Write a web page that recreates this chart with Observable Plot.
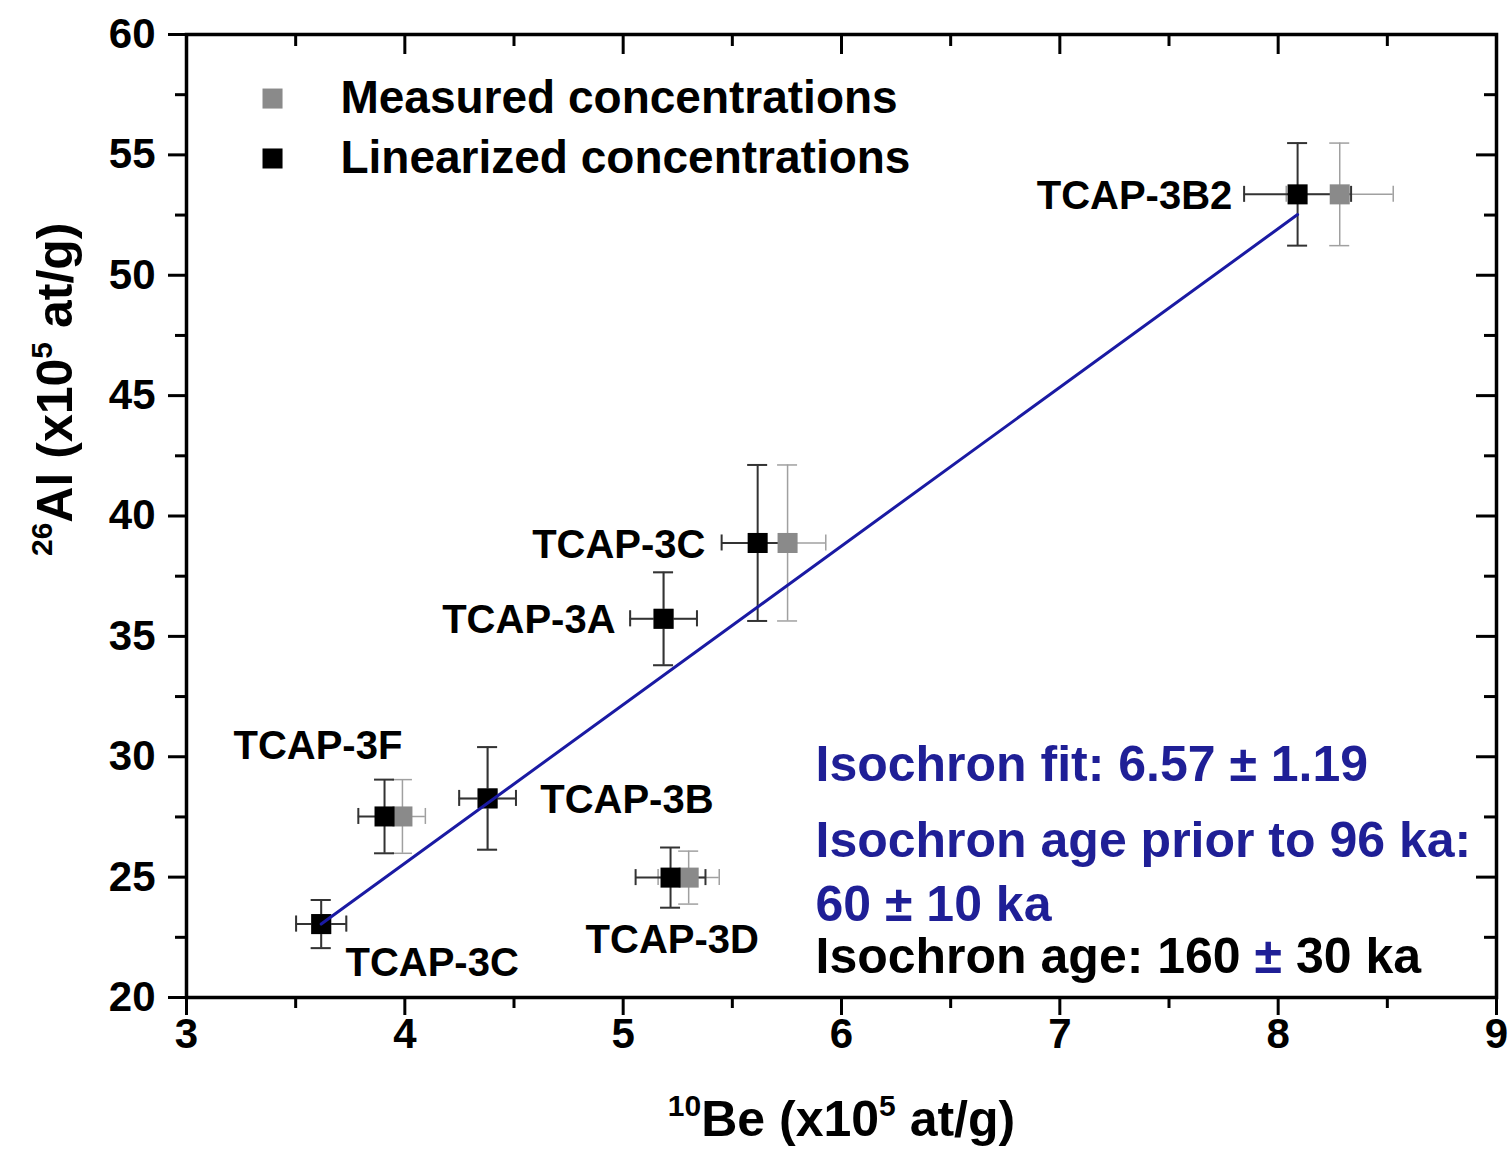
<!DOCTYPE html>
<html>
<head>
<meta charset="utf-8">
<script src="https://cdn.jsdelivr.net/npm/d3@7"></script>
<script src="https://cdn.jsdelivr.net/npm/@observablehq/plot@0.6"></script>
<style>
  html, body { margin: 0; padding: 0; background: #fff; }
  svg { display: block; }
</style>
</head>
<body>
<div id="chart"></div>
<script>
// ---------------- data ----------------
const samples   = ["TCAP-3B2", "TCAP-3C", "TCAP-3A", "TCAP-3F", "TCAP-3B", "TCAP-3C", "TCAP-3D"];
// Linearized concentrations (black)
const beLin     = [8.089, 5.616, 5.185, 3.907, 4.379, 3.617, 5.217];
const alLin     = [53.36, 38.88, 35.73, 27.52, 28.27, 23.05, 24.98];
const beLinErr  = [0.245, 0.165, 0.153, 0.12, 0.13, 0.115, 0.16];
const alLinErr  = [2.13, 3.24, 1.93, 1.53, 2.13, 1.0, 1.25];
// Measured concentrations (grey)
const beMeas    = [8.282, 5.753, 5.185, 3.989, 4.379, 3.617, 5.30];
const alMeas    = [53.36, 38.88, 35.73, 27.52, 28.27, 23.05, 24.98];
const beMeasErr = [0.245, 0.175, 0.153, 0.105, 0.13, 0.115, 0.14];
const alMeasErr = [2.13, 3.24, 1.93, 1.53, 2.13, 1.0, 1.1];
// Isochron fit line end points
const fitX = [3.617, 8.089];
const fitY = [23.05, 52.52];
// axis ticks
const xMajor = [3, 4, 5, 6, 7, 8, 9];
const xMinor = [3.5, 4.5, 5.5, 6.5, 7.5, 8.5];
const yMajor = [20, 25, 30, 35, 40, 45, 50, 55, 60];
const yMinor = [22.5, 27.5, 32.5, 37.5, 42.5, 47.5, 52.5, 57.5];
// texts
const legendLabels = ["Measured concentrations", "Linearized concentrations"];
const isoLinesBlue = ["Isochron fit: 6.57 \u00B1 1.19", "Isochron age prior to 96 ka:", "60 \u00B1 10 ka"];
const isoLineBlack = "Isochron age: 160 \u00B1 30 ka";
const xTitle = "\u00B9\u2070Be (x10\u2075 at/g)";
const yTitle = "\u00B2\u2076Al (x10\u2075 at/g)";

// ---------------- layout (annotation anchors in data units) ----------------
const labelX      = [7.79, 5.377, 4.965, 3.215, 4.62, 3.728, 4.828];
const labelY      = [53.27, 38.77, 35.66, 30.44, 28.18, 21.41, 22.37];
const labelAnchor = ["end", "end", "end", "start", "start", "start", "start"];
const legendMarkX = 3.394, legendTextX = 3.705, legendY = [57.34, 54.85];
const isoX = 5.881, isoY = [29.64, 26.52, 23.86], isoBlackY = 21.70;

const W = 1509, H = 1171, mL = 186, mR = 13, mT = 34, mB = 174;
const innerW = W - mL - mR, innerH = H - mT - mB;
const BLUE = "#1f1f96", LINE = "#1a1aa3", GREY = "#8a8a8a", GREYBAR = "#a0a0a0";

const lin = samples.map((s, i) => ({s, x: beLin[i], y: alLin[i], ex: beLinErr[i], ey: alLinErr[i]}));
const meas = samples.map((s, i) => ({s, x: beMeas[i], y: alMeas[i], ex: beMeasErr[i], ey: alMeasErr[i]}));
const fit = fitX.map((x, i) => ({x, y: fitY[i]}));
const labels = samples.map((s, i) => ({s, x: labelX[i], y: labelY[i], a: labelAnchor[i]}));
const legend = legendLabels.map((t, i) => ({t, y: legendY[i], c: i === 0 ? GREY : "#000"}));
const iso = isoLinesBlue.map((t, i) => ({t, y: isoY[i]}));

function errorMarks(data, color, sw) {
  return [
    Plot.ruleX(data, {x: "x", y1: d => d.y - d.ey, y2: d => d.y + d.ey, stroke: color, strokeWidth: sw}),
    Plot.ruleY(data, {y: d => d.y + d.ey, x1: "x", x2: "x", insetLeft: -10, insetRight: -10, stroke: color, strokeWidth: sw}),
    Plot.ruleY(data, {y: d => d.y - d.ey, x1: "x", x2: "x", insetLeft: -10, insetRight: -10, stroke: color, strokeWidth: sw}),
    Plot.ruleY(data, {y: "y", x1: d => d.x - d.ex, x2: d => d.x + d.ex, stroke: color, strokeWidth: sw}),
    Plot.ruleX(data, {x: d => d.x - d.ex, y1: "y", y2: "y", insetTop: -8, insetBottom: -8, stroke: color, strokeWidth: sw}),
    Plot.ruleX(data, {x: d => d.x + d.ex, y1: "y", y2: "y", insetTop: -8, insetBottom: -8, stroke: color, strokeWidth: sw})
  ];
}

const plot = Plot.plot({
  width: W, height: H,
  marginLeft: mL, marginRight: mR, marginTop: mT, marginBottom: mB,
  style: {fontFamily: "'Liberation Sans', Arial, sans-serif", fontWeight: "bold", background: "#fff", color: "#000"},
  x: {domain: [3, 9]},
  y: {domain: [20, 60]},
  marks: [
    // axes: outward on left/bottom, inward mirror ticks on top/right
    Plot.axisY(yMajor, {anchor: "left", tickSize: 18, tickPadding: 13, fontSize: 42, strokeWidth: 3, tickFormat: d => String(d), label: null}),
    Plot.axisY(yMinor, {anchor: "left", tickSize: 11, tickFormat: () => "", strokeWidth: 3, label: null}),
    Plot.axisX(xMajor, {anchor: "bottom", tickSize: 18, tickPadding: 3, fontSize: 42, strokeWidth: 3, tickFormat: d => String(d), label: null}),
    Plot.axisX(xMinor, {anchor: "bottom", tickSize: 11, tickFormat: () => "", strokeWidth: 3, label: null}),
    Plot.tickX(xMajor, {x: d => d, insetBottom: innerH - 20, strokeWidth: 3}),
    Plot.tickX(xMinor, {x: d => d, insetBottom: innerH - 12, strokeWidth: 3}),
    Plot.tickY(yMajor, {y: d => d, insetLeft: innerW - 20, strokeWidth: 3}),
    Plot.tickY(yMinor, {y: d => d, insetLeft: innerW - 12, strokeWidth: 3}),
    Plot.frame({strokeWidth: 3.5}),
    // error bars
    ...errorMarks(meas, GREYBAR, 1.5),
    ...errorMarks(lin, "#333", 2),
    // markers
    Plot.dot(meas, {x: "x", y: "y", symbol: "square", r: 11.3, fill: GREY, stroke: null}),
    Plot.dot(lin, {x: "x", y: "y", symbol: "square", r: 11.3, fill: "#000", stroke: null}),
    // fit line
    Plot.line(fit, {x: "x", y: "y", stroke: LINE, strokeWidth: 3}),
    // sample labels
    Plot.text(labels.filter(d => d.a === "end"), {x: "x", y: "y", text: "s", textAnchor: "end", fontSize: 40, fontWeight: "bold", fill: "#000"}),
    Plot.text(labels.filter(d => d.a === "start"), {x: "x", y: "y", text: "s", textAnchor: "start", fontSize: 40, fontWeight: "bold", fill: "#000"}),
    // legend
    Plot.dot(legend, {x: () => legendMarkX, y: "y", symbol: "square", r: 11.3, fill: d => d.c, stroke: null}),
    Plot.text(legend, {x: () => legendTextX, y: "y", text: "t", textAnchor: "start", fontSize: 46, fontWeight: "bold", fill: "#000"}),
    // isochron annotations
    Plot.text(iso, {x: () => isoX, y: "y", text: "t", textAnchor: "start", fontSize: 50, fontWeight: "bold", fill: BLUE}),
    Plot.text([isoLineBlack], {x: () => isoX, y: () => isoBlackY, text: d => d, textAnchor: "start", fontSize: 50, fontWeight: "bold", fill: "#000"}),
    // axis titles
    Plot.text([xTitle], {frameAnchor: "bottom", dy: 138, text: d => d, fontSize: 50, fontWeight: "bold", fill: "#000"}),
    Plot.text([yTitle], {frameAnchor: "left", dx: -131, dy: 40, rotate: -90, text: d => d, fontSize: 50, fontWeight: "bold", fill: "#000"})
  ]
});

document.getElementById("chart").appendChild(plot);

// ---------- rich text post-processing (superscripts, coloured ±) ----------
function setRich(el, parts) {
  const t = d3.select(el);
  t.text(null);
  parts.forEach(p => {
    const ts = t.append("tspan").text(p.t);
    if (p.sup) ts.attr("font-size", 30).attr("dy", -20);
    if (p.down) ts.attr("dy", 20);
    if (p.fill) ts.attr("fill", p.fill);
  });
}
d3.select(plot).selectAll("text").each(function () {
  const s = this.textContent;
  if (s === xTitle) {
    setRich(this, [{t: "10", sup: true}, {t: "Be (x10", down: true}, {t: "5", sup: true}, {t: " at/g)", down: true}]);
  } else if (s === yTitle) {
    setRich(this, [{t: "26", sup: true}, {t: "Al (x10", down: true}, {t: "5", sup: true}, {t: " at/g)", down: true}]);
  } else if (s === isoLineBlack) {
    setRich(this, [{t: "Isochron age: 160 "}, {t: "\u00B1", fill: BLUE}, {t: " 30 ka"}]);
  }
});
</script>
</body>
</html>
